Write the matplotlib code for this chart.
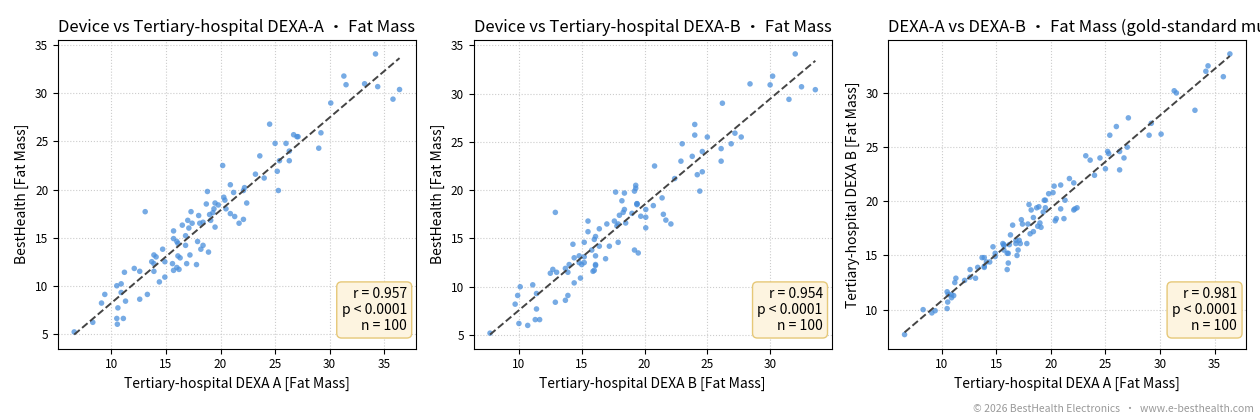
import numpy as np
import matplotlib
matplotlib.use("Agg")
import matplotlib.pyplot as plt

plt.rcParams["font.family"] = ["Noto Sans CJK JP", "DejaVu Sans"]

# Fat mass readings (kg) for 100 subjects
dexa_a = [6.6, 8.3, 9.1, 9.4, 10.5, 10.55, 10.6, 10.5, 10.9, 10.9,
          11.1, 11.3, 11.2, 12.1, 12.6, 12.6, 13.1, 13.3, 13.7, 13.9,
          13.9, 14.1, 13.9, 14.4, 14.7, 14.9, 14.9, 15.6, 15.7,
          15.7, 15.7, 16.0, 16.0, 16.1, 16.1, 16.2, 16.3, 16.5, 16.8,
          16.8, 16.9, 17.0, 17.1, 17.3, 17.2, 17.4, 17.8, 17.9, 18.0,
          18.1, 18.4, 18.2, 18.4, 18.7, 18.8, 18.9, 19.0, 19.1, 19.3,
          19.4, 19.5, 19.5, 19.8, 20.2, 20.3, 20.4, 20.5, 20.9, 20.9,
          21.2, 21.3, 21.7, 22.1, 22.1, 22.2, 22.4, 23.2, 23.6, 24.0,
          24.5, 25.0, 25.2, 25.3, 25.4, 26.0, 26.3, 26.3, 26.7, 27.0,
          27.1, 29.0, 29.2, 30.1, 31.3, 31.5, 33.2, 34.2, 34.4, 35.8, 36.4]
device = [5.2, 6.2, 8.2, 9.1, 6.6, 6.0, 7.7, 10.0, 10.2, 9.3,
          6.6, 8.4, 11.4, 11.8, 8.6, 11.5, 17.7, 9.1, 12.5, 13.2,
          11.5, 13.0, 12.3, 10.4, 13.8, 12.5, 10.9, 12.3, 11.6,
          15.7, 14.9, 14.6, 11.9, 13.1, 14.4, 11.7, 12.9, 16.3, 15.2,
          14.2, 12.3, 16.8, 16.0, 17.7, 13.2, 16.5, 12.2, 14.6, 17.3,
          16.5, 14.2, 13.8, 16.6, 18.5, 19.8, 13.5, 17.4, 16.8, 17.6,
          18.0, 18.6, 16.1, 18.4, 22.5, 19.2, 18.9, 18.0, 17.5, 20.5,
          19.7, 17.2, 16.5, 16.9, 19.9, 20.2, 18.6, 21.6, 23.5, 21.2,
          26.8, 24.8, 21.9, 19.9, 23.0, 24.8, 24.0, 23.0, 25.7, 25.5,
          25.5, 24.3, 25.9, 29.0, 31.8, 30.9, 31.0, 34.1, 30.7, 29.4, 30.4]
dexa_b = [7.7, 10.0, 9.7, 9.9, 11.65, 10.7, 11.4, 10.1, 11.1, 11.4,
          11.3, 12.9, 12.5, 12.7, 13.7, 13.0, 12.9, 13.9, 14.8, 14.8,
          13.9, 14.4, 14.0, 14.4, 15.8, 15.2, 14.9, 16.1, 15.9,
          15.5, 16.0, 15.2, 13.7, 15.2, 14.3, 16.0, 16.9, 17.8, 16.1,
          16.4, 15.0, 15.5, 16.4, 18.3, 16.1, 17.9, 16.1, 17.9, 19.7,
          17.0, 17.2, 19.2, 18.5, 19.4, 17.7, 19.5, 18.0, 17.6, 19.0,
          20.1, 19.4, 20.1, 20.7, 20.8, 21.4, 18.2, 18.4, 21.5, 19.3,
          18.4, 20.1, 22.1, 21.7, 19.2, 19.3, 19.4, 24.2, 23.8, 22.4,
          24.0, 23.0, 24.6, 24.4, 26.1, 26.9, 24.6, 22.9, 24.0, 25.0,
          27.7, 26.1, 27.2, 26.2, 30.2, 30.0, 28.4, 32.0, 32.5, 31.5, 33.6]

panels = [
    ("Device vs Tertiary-hospital DEXA-A ・ Fat Mass", dexa_a, device,
     "Tertiary-hospital DEXA A [Fat Mass]", "BestHealth [Fat Mass]", "0.957"),
    ("Device vs Tertiary-hospital DEXA-B ・ Fat Mass", dexa_b, device,
     "Tertiary-hospital DEXA B [Fat Mass]", "BestHealth [Fat Mass]", "0.954"),
    ("DEXA-A vs DEXA-B ・ Fat Mass (gold-standard mutual agreement)", dexa_a, dexa_b,
     "Tertiary-hospital DEXA A [Fat Mass]", "Tertiary-hospital DEXA B [Fat Mass]", "0.981"),
]

fig = plt.figure(figsize=(12.6, 4.2), dpi=100)
lefts = [0.046, 0.376, 0.705]
for left, (title, x, y, xlabel, ylabel, r_txt) in zip(lefts, panels):
    ax = fig.add_axes([left, 0.17, 0.284, 0.735])
    x = np.asarray(x)
    y = np.asarray(y)
    ax.scatter(x, y, s=16, color="#4a8fdc", alpha=0.75, edgecolors="none", zorder=3)
    slope, intercept = np.polyfit(x, y, 1)
    xs = np.array([x.min(), x.max()])
    ax.plot(xs, slope * xs + intercept, ls="--", color="#444444", lw=1.4, zorder=4)
    ax.grid(True, ls=":", color="#cccccc", lw=0.8)
    ax.set_axisbelow(True)
    ax.set_title(title, loc="left", fontsize=12)
    ax.set_xlabel(xlabel, fontsize=10)
    ax.set_ylabel(ylabel, fontsize=10)
    ax.tick_params(labelsize=8.5)
    ax.text(0.975, 0.05, f"r = {r_txt}\np < 0.0001\nn = 100", transform=ax.transAxes,
            ha="right", va="bottom", fontsize=10, zorder=5,
            bbox=dict(boxstyle="round,pad=0.35", facecolor="#fdf4e0", edgecolor="#e6c878"))

fig.text(0.995, 0.015, "© 2026 BestHealth Electronics  ・  www.e-besthealth.com",
         ha="right", va="bottom", fontsize=7.5, color="#999999")
fig.savefig("out.png", dpi=100)
